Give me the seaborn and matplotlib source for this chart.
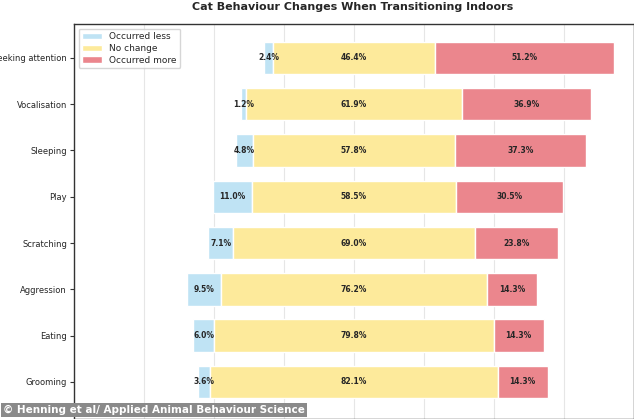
import matplotlib
matplotlib.use('Agg')
import matplotlib.pyplot as plt
import seaborn as sns
import numpy as np

behaviours = ['Seeking attention', 'Vocalisation', 'Sleeping', 'Play',
              'Scratching', 'Aggression', 'Eating', 'Grooming']
less = [2.4, 1.2, 4.8, 11.0, 7.1, 9.5, 6.0, 3.6]
no_change = [46.4, 61.9, 57.8, 58.5, 69.0, 76.2, 79.8, 82.1]
more = [51.2, 36.9, 37.3, 30.5, 23.8, 14.3, 14.3, 14.3]

sns.set_style('whitegrid')
plt.rcParams['font.family'] = ['DejaVu Sans']

fig = plt.figure(figsize=(6.34, 4.19), dpi=100)
ax = fig.add_axes([74/634, 0.0, 560/634, 1 - 24/419])

c_less, c_no, c_more = '#bfe3f4', '#fdea9b', '#eb868d'
y = np.arange(len(behaviours))
less_a = np.array(less)
no_a = np.array(no_change)
more_a = np.array(more)
h = 0.7

ax.barh(y, less_a, left=-no_a/2 - less_a, height=h, color=c_less, label='Occurred less')
ax.barh(y, no_a, left=-no_a/2, height=h, color=c_no, label='No change')
ax.barh(y, more_a, left=no_a/2, height=h, color=c_more, label='Occurred more')

for i in range(len(behaviours)):
    ax.text(-no_a[i]/2 - less_a[i]/2, i, f'{less[i]:.1f}%', ha='center', va='center',
            fontsize=5.5, fontweight='bold')
    ax.text(0, i, f'{no_change[i]:.1f}%', ha='center', va='center', fontsize=5.5, fontweight='bold')
    ax.text(no_a[i]/2 + more_a[i]/2, i, f'{more[i]:.1f}%', ha='center', va='center',
            fontsize=5.5, fontweight='bold')

ax.set_yticks(y)
ax.set_yticklabels(behaviours, fontsize=6)
ax.set_xticks(np.arange(-80, 81, 20))
ax.set_xticklabels([])
ax.set_xlim(-80, 80)
ax.set_ylim(7.8, -0.73)
ax.grid(axis='y', visible=False)
ax.grid(axis='x', color='#e6e6e6', lw=0.8)
ax.tick_params(axis='y', length=3, color='#333333', left=True, pad=2)
for s in ax.spines.values():
    s.set_edgecolor('#333333')
    s.set_linewidth(1.0)

ax.legend(loc='upper left', fontsize=6.5, frameon=True, borderpad=0.4,
          handlelength=2.2, labelspacing=0.3, bbox_to_anchor=(0.0, 1.0))

fig.text(353/634, 1 - 7/419, 'Cat Behaviour Changes When Transitioning Indoors',
         ha='center', va='center', fontsize=8, fontweight='bold')
fig.text(0.005, 9/419, '© Henning et al/ Applied Animal Behaviour Science', ha='left', va='center',
         fontsize=7.5, fontweight='bold', color='white',
         bbox=dict(boxstyle='square,pad=0.2', facecolor='#8a8a8a', edgecolor='none'))

fig.savefig('out.png', dpi=100)
